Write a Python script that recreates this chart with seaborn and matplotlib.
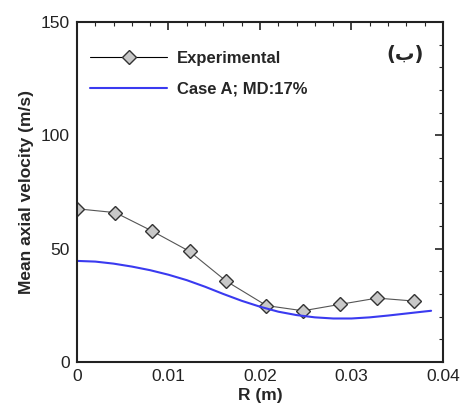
import numpy as np
import pandas as pd
import matplotlib
matplotlib.use("Agg")
import matplotlib.pyplot as plt
from matplotlib.ticker import MultipleLocator
import seaborn as sns

# Experimental data
exp_r = [0.0, 0.0042, 0.0082, 0.0123, 0.0163, 0.0207, 0.0247, 0.0287, 0.0328, 0.0368]
exp_v = [67.6, 65.9, 57.8, 48.8, 35.7, 24.9, 22.6, 25.4, 28.2, 26.9]

# Case A simulation
sim_r = [0.0, 0.002, 0.004, 0.006, 0.008, 0.010, 0.012, 0.014, 0.016, 0.018,
         0.020, 0.022, 0.024, 0.026, 0.028, 0.030, 0.032, 0.034, 0.036, 0.038, 0.0387]
sim_v = [44.6, 44.3, 43.4, 42.1, 40.5, 38.5, 36.1, 33.2, 30.0, 27.0,
         24.4, 22.2, 20.7, 19.7, 19.2, 19.2, 19.7, 20.5, 21.4, 22.3, 22.6]

labels = ["Experimental", "Case A; MD:17%"]

sns.set_style("white")
plt.rcParams['font.family'] = ['Liberation Sans', 'DejaVu Sans']

fig = plt.figure(figsize=(4.63, 4.09), dpi=100)
ax = fig.add_axes([0.1663, 0.1149, 0.7905, 0.8313])

df_exp = pd.DataFrame({"R": exp_r, "V": exp_v})
df_sim = pd.DataFrame({"R": sim_r, "V": sim_v})

sns.lineplot(data=df_exp, x="R", y="V", ax=ax, color="#555555", linewidth=0.8,
             marker="D", markersize=7.5, markerfacecolor="#c8c8c8",
             markeredgecolor="#333333", markeredgewidth=1.0, label=labels[0])
sns.lineplot(data=df_sim, x="R", y="V", ax=ax, color="#3a3af0", linewidth=1.5,
             label=labels[1])

ax.set_xlim(0, 0.04)
ax.set_ylim(0, 150)
ax.xaxis.set_major_locator(MultipleLocator(0.01))
ax.xaxis.set_minor_locator(MultipleLocator(0.002))
ax.yaxis.set_major_locator(MultipleLocator(50))
ax.yaxis.set_minor_locator(MultipleLocator(10))
ax.set_xticks([0, 0.01, 0.02, 0.03, 0.04])
ax.set_xticklabels(["0", "0.01", "0.02", "0.03", "0.04"])
ax.tick_params(which="major", direction="in", length=6, width=1.2, top=True, right=True,
               labelsize=12.5, colors="#222222", pad=5)
ax.tick_params(which="minor", direction="in", length=3, width=0.8, top=True, right=True)
for s in ax.spines.values():
    s.set_linewidth(1.5)
    s.set_color("#222222")

ax.set_xlabel("R (m)", fontsize=12.5, fontweight="bold", labelpad=3)
ax.set_ylabel("Mean axial velocity (m/s)", fontsize=12.5, fontweight="bold", labelpad=5)

leg = ax.legend(loc="upper left", bbox_to_anchor=(0.0, 0.955), frameon=False,
                prop={"weight": "bold", "size": 12}, handlelength=4.6,
                handletextpad=0.6, labelspacing=0.95, borderaxespad=0.4)
leg_lines = leg.get_lines()
leg_lines[0].set_color("black")
leg_lines[0].set_markersize(7)

ax.text(0.895, 0.903, "(ب)", transform=ax.transAxes, ha="center", va="center",
        fontsize=14, fontweight="bold", family=['DejaVu Sans'])

fig.savefig("out.png", dpi=100)
